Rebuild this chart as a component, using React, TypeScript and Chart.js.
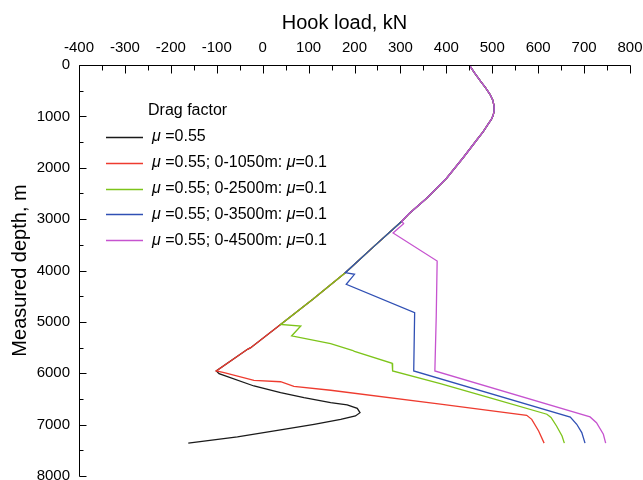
import { useEffect, useRef } from 'react';
import { Chart, registerables } from 'chart.js';

Chart.register(...registerables);

// ---- Data (hook load in kN, measured depth in m) ----
// shared upper section (all cases)
const upperLoad = [450, 461, 474, 486, 495, 501, 504, 504, 502, 498, 491, 480, 467, 437, 401, 359, 318, 303];
const upperDepth = [0, 150, 310, 450, 570, 680, 800, 900, 980, 1060, 1150, 1300, 1450, 1800, 2200, 2580, 2900, 3040];
// shared by all except 0-4500m case
const mid1Load = [240, 180];
const mid1Depth = [3550, 4042];
// shared by black, red, green
const mid2Load = [110, 39];
const mid2Depth = [4555, 5050];
// shared by black, red
const mid3Load = [-26, -33, -101];
const mid3Depth = [5502, 5534, 5955];

const blackLoad = [-95, -19, 39, 90, 148, 184, 206, 212, 202, 170, 112, 39, -55, -162];
const blackDepth = [6008, 6248, 6377, 6475, 6572, 6617, 6682, 6767, 6831, 6896, 6993, 7104, 7240, 7360];

const redLoad = [-84, -19, 39, 68, 148, 387, 575, 586, 601, 613];
const redDepth = [5988, 6137, 6165, 6255, 6331, 6600, 6819, 6897, 7124, 7360];

const greenLoad = [83, 63, 148, 195, 200, 282, 283, 387, 503, 619, 628, 640, 652, 657];
const greenDepth = [5080, 5274, 5424, 5553, 5575, 5806, 5955, 6200, 6500, 6798, 6860, 7026, 7220, 7360];

const blueLoad = [200, 182, 331, 329, 670, 684, 695, 702];
const blueDepth = [4074, 4269, 4820, 5955, 6855, 6993, 7156, 7360];

const magentaLoad = [307, 284, 380, 378, 375, 713, 727, 742, 747];
const magentaDepth = [3090, 3270, 3815, 4900, 5955, 6850, 6962, 7188, 7360];

const seriesLabels = [
  'μ =0.55',
  'μ =0.55; 0-1050m: μ=0.1',
  'μ =0.55; 0-2500m: μ=0.1',
  'μ =0.55; 0-3500m: μ=0.1',
  'μ =0.55; 0-4500m: μ=0.1',
];
const seriesColors = ['#1a1a1a', '#ee3b2f', '#7dc41a', '#3050b4', '#c653cf'];

const legendTitle = 'Drag factor';
const xTitle = 'Hook load, kN';
const yTitle = 'Measured depth, m';

function pts(loads: number[][], depths: number[][]) {
  const out: { x: number; y: number }[] = [];
  loads.forEach((arr, k) => arr.forEach((v, i) => out.push({ x: v, y: depths[k][i] })));
  return out;
}

const FONT = '"Liberation Sans", Arial, sans-serif';

function drawRich(ctx: CanvasRenderingContext2D, text: string, x: number, y: number, size: number) {
  const parts = text.split('μ');
  let cx = x;
  parts.forEach((p, i) => {
    if (i > 0) {
      ctx.font = `italic ${size}px ${FONT}`;
      ctx.fillText('μ', cx, y);
      cx += ctx.measureText('μ').width;
    }
    ctx.font = `${size}px ${FONT}`;
    ctx.fillText(p, cx, y);
    cx += ctx.measureText(p).width;
  });
}

const decor = {
  id: 'decor',
  afterDraw(chart: any) {
    const ctx: CanvasRenderingContext2D = chart.ctx;
    const xs = chart.scales.x;
    const ys = chart.scales.y;
    const { left, top, right, bottom } = chart.chartArea;
    ctx.save();
    ctx.strokeStyle = '#000';
    ctx.lineWidth = 1;
    const L = Math.round(left) + 0.5;
    const T = Math.round(top) + 0.5;
    ctx.beginPath();
    ctx.moveTo(L, T);
    ctx.lineTo(Math.round(right) + 0.5, T);
    ctx.moveTo(L, T);
    ctx.lineTo(L, Math.round(bottom) + 0.5);
    ctx.stroke();
    ctx.beginPath();
    for (let v = -400; v <= 800; v += 50) {
      const px = Math.round(xs.getPixelForValue(v)) + 0.5;
      const len = v % 100 === 0 ? 8 : 5;
      ctx.moveTo(px, T);
      ctx.lineTo(px, T + len);
    }
    for (let v = 0; v <= 8000; v += 500) {
      const py = Math.round(ys.getPixelForValue(v)) + 0.5;
      const len = v % 1000 === 0 ? 7 : 4;
      ctx.moveTo(L, py);
      ctx.lineTo(L + len, py);
    }
    ctx.stroke();

    // titles
    ctx.fillStyle = '#000';
    ctx.textBaseline = 'middle';
    ctx.textAlign = 'center';
    ctx.font = `20px ${FONT}`;
    ctx.fillText(xTitle, 344.5, 23);
    ctx.save();
    ctx.translate(20, (top + bottom) / 2);
    ctx.rotate(-Math.PI / 2);
    ctx.fillText(yTitle, 0, 0);
    ctx.restore();

    // legend
    ctx.textAlign = 'left';
    ctx.font = `16px ${FONT}`;
    ctx.fillText(legendTitle, 148, 111);
    seriesLabels.forEach((lab, i) => {
      const y = 137 + i * 25.8;
      ctx.strokeStyle = seriesColors[i];
      ctx.lineWidth = 1.3;
      ctx.beginPath();
      ctx.moveTo(106, Math.round(y) + 0.5);
      ctx.lineTo(143, Math.round(y) + 0.5);
      ctx.stroke();
      ctx.fillStyle = '#000';
      drawRich(ctx, lab, 152, y, 16);
    });
    ctx.restore();
  },
};

const zeroPad = (s: any) => {
  s.paddingLeft = 0;
  s.paddingRight = 0;
  s.paddingTop = 0;
  s.paddingBottom = 0;
};

export default function App() {
  const ref = useRef<HTMLCanvasElement | null>(null);
  useEffect(() => {
    document.body.style.margin = '0';
    if (!ref.current) return;
    const series = [
      pts([upperLoad, mid1Load, mid2Load, mid3Load, blackLoad], [upperDepth, mid1Depth, mid2Depth, mid3Depth, blackDepth]),
      pts([upperLoad, mid1Load, mid2Load, mid3Load, redLoad], [upperDepth, mid1Depth, mid2Depth, mid3Depth, redDepth]),
      pts([upperLoad, mid1Load, mid2Load, greenLoad], [upperDepth, mid1Depth, mid2Depth, greenDepth]),
      pts([upperLoad, mid1Load, blueLoad], [upperDepth, mid1Depth, blueDepth]),
      pts([upperLoad, magentaLoad], [upperDepth, magentaDepth]),
    ];
    const chart = new Chart(ref.current, {
      type: 'scatter',
      data: {
        datasets: series.map((d, i) => ({
          label: seriesLabels[i],
          data: d,
          showLine: true,
          borderColor: seriesColors[i],
          backgroundColor: seriesColors[i],
          borderWidth: 1.3,
          pointRadius: 0,
          tension: 0,
          order: 4 - i,
        })),
      },
      options: {
        animation: false,
        responsive: false,
        layout: { padding: { left: 0, top: 0, right: 13, bottom: 4 } },
        plugins: { legend: { display: false }, tooltip: { enabled: false } },
        scales: {
          x: {
            type: 'linear',
            position: 'top',
            min: -400,
            max: 800,
            afterFit: (s: any) => { s.height = 65; zeroPad(s); },
            grid: { display: false, drawTicks: false },
            border: { display: false },
            ticks: {
              stepSize: 50,
              autoSkip: false,
              maxRotation: 0,
              padding: 8,
              color: '#000',
              font: { family: FONT, size: 15 },
              callback: (v: any) => (Number(v) % 100 === 0 ? String(v) : ''),
            },
          },
          y: {
            type: 'linear',
            reverse: true,
            min: 0,
            max: 8000,
            afterFit: (s: any) => { s.width = 79; zeroPad(s); },
            grid: { display: false, drawTicks: false },
            border: { display: false },
            ticks: {
              stepSize: 500,
              autoSkip: false,
              padding: 9,
              color: '#000',
              font: { family: FONT, size: 15 },
              callback: (v: any) => (Number(v) % 1000 === 0 ? String(v) : ''),
            },
          },
        },
      },
      plugins: [decor],
    });
    return () => chart.destroy();
  }, []);
  return (
    <div style={{ width: 643, height: 480 }}>
      <canvas ref={ref} width={643} height={480} style={{ display: 'block' }} />
    </div>
  );
}
